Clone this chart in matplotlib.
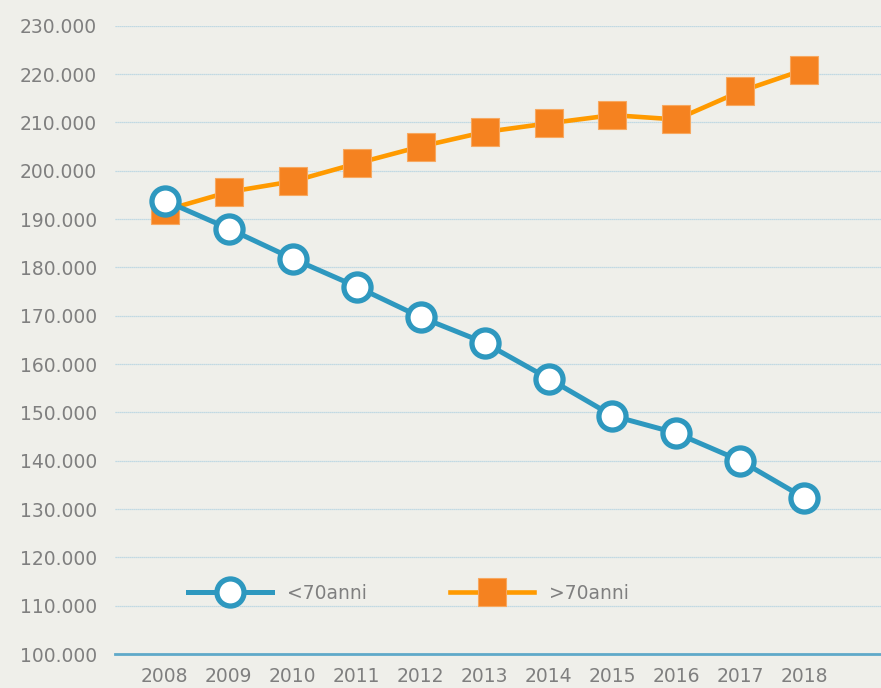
import matplotlib
matplotlib.use("Agg")
import matplotlib.pyplot as plt
from matplotlib.ticker import FuncFormatter, MultipleLocator

years = ["2008", "2009", "2010", "2011", "2012", "2013",
         "2014", "2015", "2016", "2017", "2018"]
under70 = [193800, 188000, 181800, 176000, 169700, 164400,
           157000, 149300, 145700, 140000, 132300]
over70 = [191800, 195600, 197800, 201500, 205000, 208000,
          209800, 211500, 210600, 216400, 220900]

bg = "#efefea"
blue = "#2e98bf"
orange_line = "#ff9a00"
orange_mark = "#f58220"
grey = "#7f7f7f"

fig = plt.figure(figsize=(8.81, 6.88), dpi=100, facecolor=bg)
ax = fig.add_axes([115 / 881, 34 / 688, 766 / 881, 628.3 / 688])
ax.set_facecolor(bg)

x = list(range(len(years)))
ax.plot(x, over70, color=orange_line, lw=3.3, marker="s", ms=20.5,
        mfc=orange_mark, mec="#f7a860", mew=0.8, label=">70anni", zorder=3)
ax.plot(x, under70, color=blue, lw=3.6, marker="o", ms=19.5,
        mfc="white", mec=blue, mew=3.8, label="<70anni", zorder=4)

ax.set_ylim(100000, 230000)
ax.set_xlim(-0.78, 11.2)
ax.yaxis.set_major_locator(MultipleLocator(10000))
ax.yaxis.set_major_formatter(FuncFormatter(lambda v, p: f"{int(v):,}".replace(",", ".")))
ax.set_xticks(x)
ax.set_xticklabels(years)
ax.grid(axis="y", color="#b3d3e2", lw=0.9, ls=(0, (1, 0.6)))
ax.set_axisbelow(True)
for s in ["top", "right", "left"]:
    ax.spines[s].set_visible(False)
ax.spines["bottom"].set_color("#5fa9c9")
ax.spines["bottom"].set_linewidth(2)
ax.tick_params(length=0, labelsize=13.5, labelcolor=grey)
ax.tick_params(axis="y", pad=13)
ax.tick_params(axis="x", pad=9)

h, l = ax.get_legend_handles_labels()
leg = ax.legend(h[::-1], l[::-1], loc="center left", bbox_to_anchor=(0.095, 0.097),
                ncol=2, frameon=False, fontsize=13.5, handlelength=4.5,
                handletextpad=0.8, columnspacing=4.4, borderpad=0, borderaxespad=0)
for t in leg.get_texts():
    t.set_color(grey)

fig.savefig("out.png", dpi=100, facecolor=bg)
